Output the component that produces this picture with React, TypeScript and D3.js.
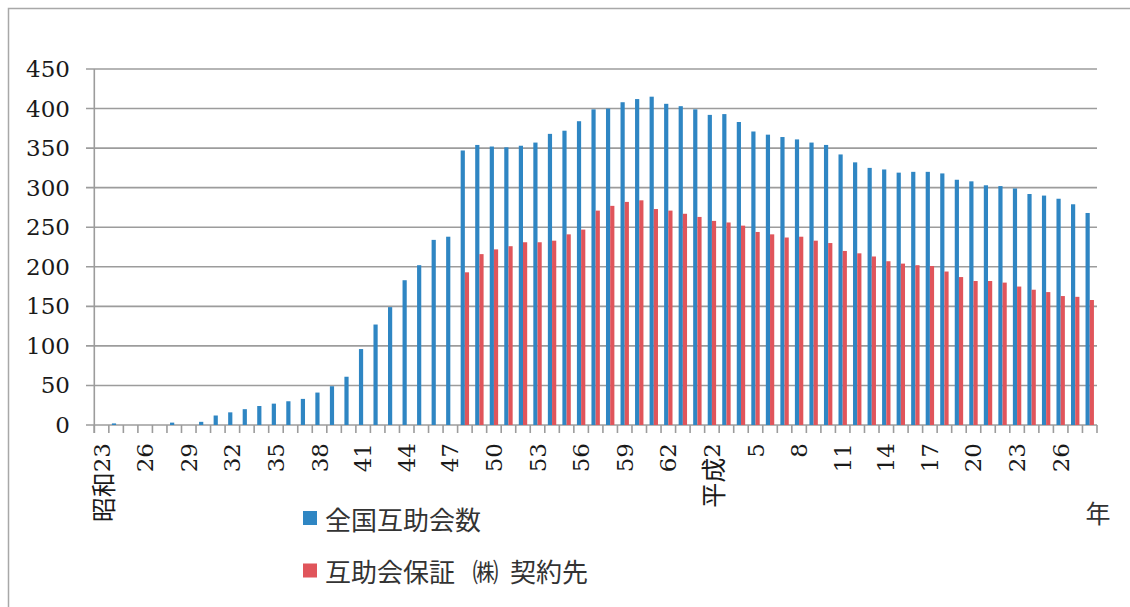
import React from "react";
import * as d3 from "d3";

// 昭和23年〜平成28年
const categories = [
    "昭和23", "24", "25", "26", "27", "28", "29", "30", "31", "32",
    "33", "34", "35", "36", "37", "38", "39", "40", "41", "42",
    "43", "44", "45", "46", "47", "48", "49", "50", "51", "52",
    "53", "54", "55", "56", "57", "58", "59", "60", "61", "62",
    "63", "元", "平成2", "3", "4", "5", "6", "7", "8", "9",
    "10", "11", "12", "13", "14", "15", "16", "17", "18", "19",
    "20", "21", "22", "23", "24", "25", "26", "27", "28",
];

// 全国互助会数
const allAssociations = [
    0, 2, 0, 0, 0, 3, 0, 4, 12, 16,
    20, 24, 27, 30, 33, 41, 49, 61, 96, 127,
    149, 183, 202, 234, 238, 347, 354, 352, 351, 353,
    357, 368, 372, 384, 399, 400, 408, 412, 415, 406,
    403, 399, 392, 393, 383, 371, 367, 364, 361, 357,
    354, 342, 332, 325, 323, 319, 320, 320, 318, 310,
    308, 303, 302, 299, 292, 290, 286, 279, 268,
];

// 互助会保証(株) 契約先 (昭和48年から)
const guaranteeClients: (number | null)[] = [
    null, null, null, null, null, null, null, null, null, null,
    null, null, null, null, null, null, null, null, null, null,
    null, null, null, null, null, 193, 216, 222, 226, 231,
    231, 233, 241, 247, 271, 277, 282, 284, 273, 271,
    267, 263, 258, 256, 252, 244, 241, 237, 238, 233,
    230, 220, 217, 213, 207, 204, 202, 201, 194, 187,
    182, 182, 180, 175, 171, 168, 163, 162, 158,
];

const seriesNames = ["全国互助会数", "互助会保証 ㈱ 契約先"];
const colors = ["#2f86c3", "#e0555b"];
const yTicks = [0, 50, 100, 150, 200, 250, 300, 350, 400, 450];

const numFont = "DejaVu Serif, Liberation Serif, Times New Roman, serif";
const cjkFont = "Noto Sans CJK JP, sans-serif";

export default function App() {
    const width = 1130;
    const height = 607;
    const left = 94.3;
    const right = 1097;
    const top = 69;
    const bottom = 425;

    // categories repeat between eras, so band on the index
    const idx = d3.range(categories.length);
    const x = d3.scaleBand(idx, [left, right]).paddingInner(0).paddingOuter(0);
    const x1 = d3.scaleBand(["a", "b"], [0, x.bandwidth()]).paddingInner(0).paddingOuter(0.73);
    const y = d3.scaleLinear([0, 450], [bottom, top]);
    const grid = "#9c9c9c";

    const splitLabel = (s: string) => {
        const m = s.match(/^([^0-9]*)([0-9]*)$/);
        return m ? [m[1], m[2]] : ["", s];
    };

    return (
        <svg width={width} height={height} style={{position: "absolute", left: 0, top: 0, background: "#fff"}}>
            <rect x={8.5} y={8.5} width={1130} height={610} fill="none" stroke="#a8a8a8" strokeWidth={1.5}/>

            {/* grid + y ticks */}
            {yTicks.map(t => (
                <g key={t}>
                    <line x1={86} x2={right} y1={y(t)} y2={y(t)} stroke={grid} strokeWidth={1.6}/>
                    <text x={70} y={y(t)} dy="0.35em" textAnchor="end" fontFamily={numFont} fontSize={23} fill="#1a1a1a">{t}</text>
                </g>
            ))}
            <line x1={left} x2={left} y1={top} y2={bottom + 8} stroke={grid} strokeWidth={1.6}/>

            {/* category ticks */}
            {idx.map(i => (
                <line key={"t" + i} x1={x(i)} x2={x(i)} y1={bottom} y2={bottom + 8} stroke={grid} strokeWidth={1.6}/>
            ))}
            <line x1={right} x2={right} y1={bottom} y2={bottom + 8} stroke={grid} strokeWidth={1.6}/>

            {/* bars */}
            {idx.map(i => (
                <g key={"b" + i}>
                    {allAssociations[i] > 0 && (
                        <rect x={(x(i) as number) + (x1("a") as number)} width={x1.bandwidth()}
                              y={y(allAssociations[i])} height={bottom - y(allAssociations[i])} fill={colors[0]}/>
                    )}
                    {guaranteeClients[i] != null && (
                        <rect x={(x(i) as number) + (x1("b") as number)} width={x1.bandwidth()}
                              y={y(guaranteeClients[i] as number)} height={bottom - y(guaranteeClients[i] as number)} fill={colors[1]}/>
                    )}
                </g>
            ))}

            {/* x labels, every 3rd */}
            {idx.map(i => {
                if (i % 3 !== 0) return null;
                const cx = (x(i) as number) + x.bandwidth() / 2;
                const [era, num] = splitLabel(categories[i]);
                return (
                    <text key={"l" + i} transform={`translate(${cx},443) rotate(-90)`} textAnchor="end"
                          dominantBaseline="central" fill="#1a1a1a">
                        {era && <tspan fontFamily={cjkFont} fontSize={25}>{era}</tspan>}
                        <tspan fontFamily={numFont} fontSize={23}>{num}</tspan>
                    </text>
                );
            })}

            {/* legend */}
            {seriesNames.map((name, i) => (
                <g key={name} transform={`translate(303,${511 + i * 52.5})`}>
                    <rect width={14} height={14} fill={colors[i]}/>
                    <text x={22} y={7} dominantBaseline="central" fontFamily={cjkFont} fontSize={26} fill="#333" style={{whiteSpace: "pre"}}>
                        {name.replace(" ㈱ ", "   ㈱  ")}
                    </text>
                </g>
            ))}

            <text x={1098} y={512} textAnchor="middle" dominantBaseline="central" fontFamily={cjkFont} fontSize={25} fill="#333">年</text>
        </svg>
    );
}
